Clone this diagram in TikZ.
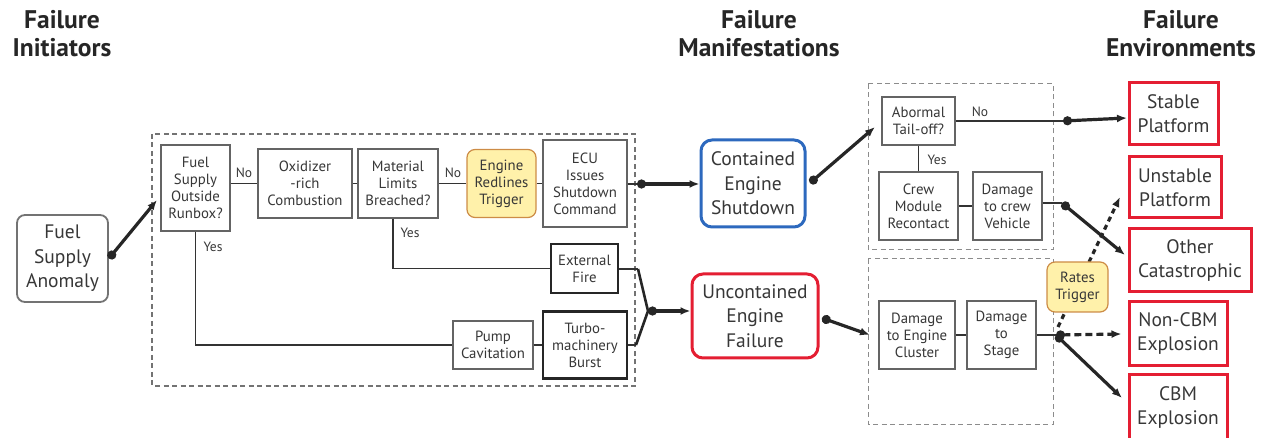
\documentclass[tikz,border=0pt]{standalone}
\usepackage{fontspec}
\setmainfont{PT Sans}
\usetikzlibrary{arrows.meta,positioning,calc,fit}

\definecolor{boxgray}{RGB}{100,100,100}
\definecolor{txtgray}{RGB}{55,55,55}
\definecolor{shutblue}{RGB}{45,105,190}
\definecolor{failred}{RGB}{228,30,50}
\definecolor{trigfill}{RGB}{255,241,170}
\definecolor{trigline}{RGB}{205,140,70}

\tikzset{
  dims/.style 2 args={minimum width=#1, minimum height=#2},
  box/.style={draw=boxgray, line width=1.2pt, align=center, text=txtgray,
    font=\fontsize{14.8}{17}\selectfont, inner sep=1pt, fill=white},
  heavybox/.style={box, draw=black!85, line width=2.4pt},
  trigger/.style={box, draw=trigline, fill=trigfill, rounded corners=8pt},
  outcome/.style={line width=3pt, rounded corners=11pt, align=center, text=txtgray,
    font=\fontsize{19.5}{24.5}\selectfont, fill=white, inner sep=1pt},
  envbox/.style={draw=failred, line width=3pt, align=center, text=txtgray,
    font=\fontsize{19.5}{24}\selectfont, inner sep=1pt},
  header/.style={align=center, font=\bfseries\fontsize{25.5}{28}\selectfont, text=black!85},
  group/.style={draw=black!55, line width=1.3pt, dash pattern=on 5pt off 3.5pt},
  link/.style={draw=black!80, line width=1.6pt},
  flow/.style={draw=black!85, line width=3.2pt, {Circle[length=9pt]}-{Latex[length=10pt,width=8pt]}},
  lbl/.style={text=txtgray, font=\fontsize{13.5}{15}\selectfont, inner sep=1pt},
}

\begin{document}
\begin{tikzpicture}[x=1pt,y=-1pt]
    \useasboundingbox (0,0) rectangle (1267,438);

    % column headers
    \node[header] (hdinit) at (62,34) {Failure\\Initiators};
    \node[header] (hdman) at (759,34) {Failure\\Manifestations};
    \node[header] (hdenv) at (1181,34) {Failure\\Environments};

    % groups
    \draw[group] (152,134) rectangle (635,386);
    \draw[group, draw=black!45, line width=1pt] (868,84) rectangle (1053,250);
    \draw[group, draw=black!45, line width=1pt] (868,259) rectangle (1053,424);

    % initiator
    \node[box, draw=black!55, line width=1.8pt, rounded corners=8pt,
      font=\fontsize{19.5}{24.5}\selectfont, dims={91}{87}] (anomaly) at (62.5,258.5) {Fuel\\Supply\\Anomaly};

    % engine chain
    \node[box, dims={69}{86}] (runbox) at (195.5,188) {Fuel\\Supply\\Outside\\Runbox?};
    \node[box, dims={94}{69}] (oxrich) at (305,183.5) {Oxidizer\\-rich\\Combustion};
    \node[box, dims={80}{69}] (limits) at (398,183.5) {Material\\Limits\\Breached?};
    \node[trigger, dims={69}{68}] (redline) at (501.5,183.5) {Engine\\Redlines\\Trigger};
    \node[box, dims={84}{87}] (ecu) at (585,183.5) {ECU\\Issues\\Shutdown\\Command};
    \node[heavybox, dims={67}{49}] (extfire) at (584.5,268.5) {External\\Fire};
    \node[box, dims={80}{48}] (pump) at (493,345) {Pump\\Cavitation};
    \node[heavybox, dims={84}{67}] (turbo) at (585,345) {Turbo-\\machinery\\Burst};

    \draw[link] (runbox.east |- oxrich.west) -- (oxrich.west);
    \draw[link] (oxrich) -- (limits);
    \draw[link] (limits) -- (redline);
    \draw[link] (redline) -- (ecu);
    \draw[link] (runbox.south) -- (runbox.south |- pump.west) -- (pump.west);
    \draw[link] (pump) -- (turbo);
    \draw[link] ([xshift=-5pt]limits.south) -- ([xshift=-5pt]limits.south |- extfire.west) -- (extfire.west);
    \node[lbl] (noA) at (244,173) {No};
    \node[lbl] (noB) at (453,173) {No};
    \node[lbl] (yesA) at (213,247) {Yes};
    \node[lbl] (yesB) at (410,233) {Yes};

    % manifestations
    \node[outcome, draw=shutblue, dims={104}{87}] (contained) at (753,183.5) {Contained\\Engine\\Shutdown};
    \node[outcome, draw=failred, dims={126}{84}] (uncontained) at (755,316) {Uncontained\\Engine\\Failure};

    \coordinate (runboxin) at (157,200);
    \coordinate (ecuout) at (637,184);
    \coordinate (fireout) at (638,269);
    \coordinate (turboout) at (636,345);
    \coordinate (fork) at (648,311);
    \draw[flow] (anomaly.east) -- (runboxin);
    \draw[link] (ecu.east |- ecuout) -- (ecuout);
    \draw[flow] (ecuout) -- (ecuout -| contained.west);
    \draw[link] (extfire.east |- fireout) -- (fireout);
    \draw[link] (turbo.east |- turboout) -- (turboout);
    \draw[draw=black!85, line width=2.6pt] (fireout) -- (fork) -- (turboout);
    \draw[flow] (fork) -- (fork -| uncontained.west);

    % vehicle level
    \node[box, dims={73}{48}] (tailoff) at (918.5,121) {Abormal\\Tail-off?};
    \node[box, dims={79}{68}] (recontact) at (918.5,206) {Crew\\Module\\Recontact};
    \node[box, dims={69}{68}] (crewveh) at (1007.5,206) {Damage\\to crew\\Vehicle};
    \node[box, dims={76}{68}] (cluster) at (917,335) {Damage\\to Engine\\Cluster};
    \node[box, dims={69}{68}] (stage) at (1001.5,335) {Damage\\to\\Stage};
    \draw[link] (tailoff) -- (tailoff |- recontact.north);
    \draw[link] (recontact) -- (crewveh);
    \draw[link] (cluster) -- (stage);
    \node[lbl] (noC) at (980,112) {No};
    \node[lbl] (yesC) at (937,160) {Yes};

    \coordinate (contout) at (810,183);
    \coordinate (tailin) at (875,127);
    \coordinate (uncout) at (822,318);
    \coordinate (clusterin) at (870,335);
    \draw[flow] (contout) -- (tailin);
    \draw[flow] (uncout) -- (clusterin);

    % environments
    \node[envbox, dims={89}{62}] (stable) at (1173.5,114) {Stable\\Platform};
    \node[envbox, dims={92}{61}] (unstable) at (1175,187.5) {Unstable\\Platform};
    \node[envbox, dims={122}{63}] (other) at (1190,260.5) {Other\\Catastrophic};
    \node[envbox, dims={98}{64}] (noncbm) at (1178,334) {Non-CBM\\Explosion};
    \node[envbox, dims={98}{65}] (cbm) at (1178,407.5) {CBM\\Explosion};

    \coordinate (tailout) at (1063,121);
    \coordinate (stablein) at (1127,118);
    \coordinate (vehout) at (1062,203);
    \coordinate (otherin) at (1125,255);
    \coordinate (stageout) at (1056,335);
    \coordinate (ratesfrom) at (1058,327);
    \coordinate (unstablein) at (1120,197);
    \coordinate (cbmin) at (1122,398);
    \draw[link] (tailoff.east |- tailout) -- (tailout);
    \draw[flow] (tailout) -- (stablein);
    \draw[link] (crewveh.east |- vehout) -- (vehout);
    \draw[flow] (vehout) -- (otherin);
    \draw[link] (stage.east) -- (stageout);
    \draw[flow, -{Latex[length=10pt,width=8pt]}, dash pattern=on 5pt off 4pt] (ratesfrom) -- (unstablein);
    \draw[flow, dash pattern=on 7pt off 4pt] (stageout) -- ([xshift=-6pt]noncbm.west);
    \draw[flow] (stageout) -- (cbmin);
    \node[trigger, dims={61}{50}] (rates) at (1077.5,287) {Rates\\Trigger};
\end{tikzpicture}
\end{document}
